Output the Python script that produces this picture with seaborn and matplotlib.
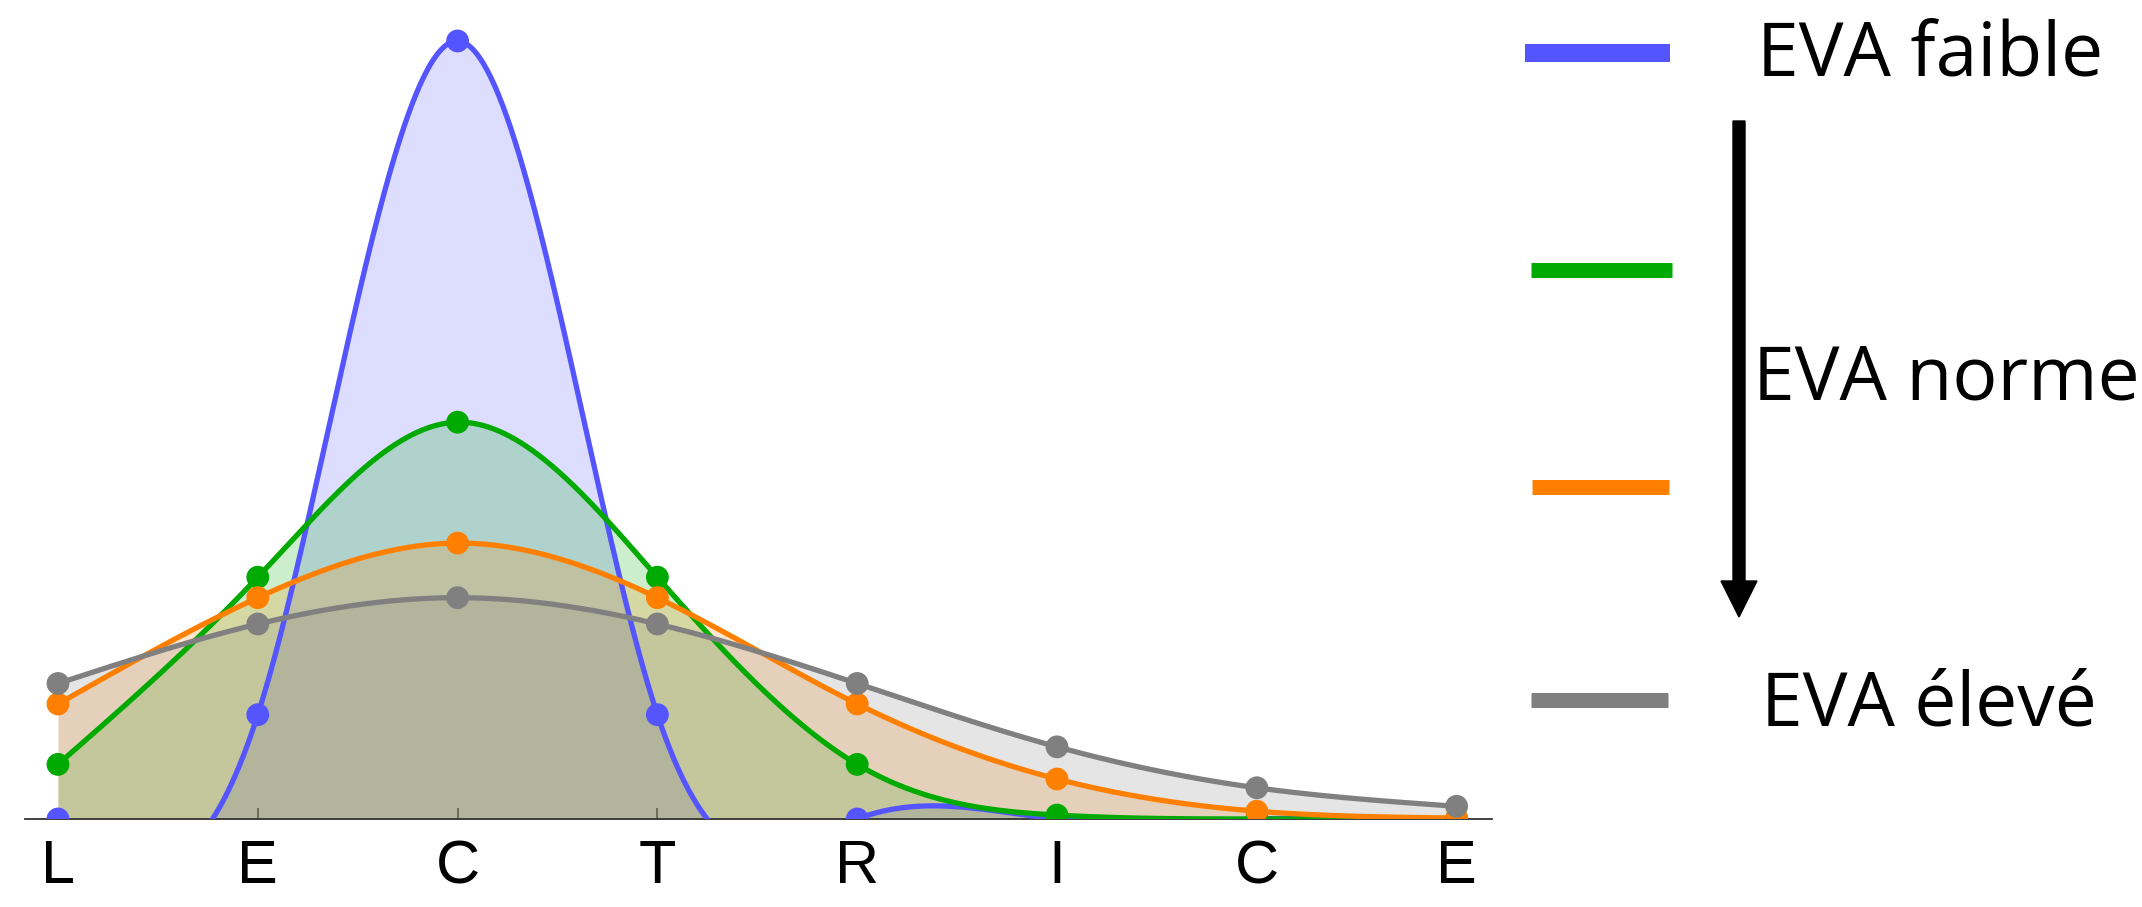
import numpy as np
import pandas as pd
import seaborn as sns
import matplotlib
matplotlib.use('Agg')
import matplotlib.pyplot as plt

# lettres de l'axe x et densites
lettres = ['L', 'E', 'C', 'T', 'R', 'I', 'C', 'E']
eva_faible = [0.0, 0.107, 0.798, 0.107, 0.0, 0.0, 0.0, 0.0]
eva_vert = [0.056, 0.248, 0.407, 0.248, 0.056, 0.004, 0.0, 0.0]
eva_orange = [0.118, 0.227, 0.283, 0.227, 0.118, 0.041, 0.008, 0.001]
eva_eleve = [0.139, 0.200, 0.227, 0.200, 0.139, 0.074, 0.032, 0.013]

series = ['EVA faible', 'EVA moyen faible', 'EVA moyen fort', 'EVA élevé']
valeurs = [eva_faible, eva_vert, eva_orange, eva_eleve]
couleurs = ['#5555ff', '#00aa00', '#ff8000', '#808080']
palette = dict(zip(series, couleurs))


def spline_naturelle(y, xs):
    # spline cubique naturelle sur x = 0..n-1
    y = np.asarray(y, dtype=float)
    n = len(y)
    A = np.zeros((n, n))
    r = np.zeros(n)
    A[0, 0] = A[-1, -1] = 1
    for i in range(1, n - 1):
        A[i, i - 1], A[i, i], A[i, i + 1] = 1, 4, 1
        r[i] = 6 * (y[i + 1] - 2 * y[i] + y[i - 1])
    M = np.linalg.solve(A, r)
    i = np.clip(np.floor(xs).astype(int), 0, n - 2)
    t = xs - i
    return (M[i] * (1 - t) ** 3 / 6 + M[i + 1] * t ** 3 / 6
            + (y[i] - M[i] / 6) * (1 - t) + (y[i + 1] - M[i + 1] / 6) * t)


xs = np.linspace(0, len(lettres) - 1, 1400)
courbes = pd.concat([pd.DataFrame({'x': xs, 'y': spline_naturelle(v, xs), 'serie': s})
                     for s, v in zip(series, valeurs)], ignore_index=True)
points = pd.concat([pd.DataFrame({'x': np.arange(len(lettres)), 'y': v, 'serie': s})
                    for s, v in zip(series, valeurs)], ignore_index=True)

sns.set_theme(style='white')
plt.rcParams['font.family'] = ['Liberation Sans', 'DejaVu Sans']

fig = plt.figure(figsize=(21.42, 9.07), dpi=100)
ax = fig.add_axes([25 / 2142, 88 / 907, 1467 / 2142, 799 / 907])

for s, c in zip(series, couleurs):
    d = courbes[courbes.serie == s]
    ax.fill_between(d.x, 0, d.y, color=c, alpha=0.2, linewidth=0, zorder=1)

sns.lineplot(data=courbes, x='x', y='y', hue='serie', palette=palette,
             legend=False, errorbar=None, ax=ax, zorder=3)
for ligne in ax.lines:
    ligne.set_linewidth(3.8)
    ligne.set_solid_capstyle('round')
sns.scatterplot(data=points, x='x', y='y', hue='serie', palette=palette, s=270,
                linewidth=0, legend=False, ax=ax, zorder=4)

ax.set_xlim(-0.165, 7.177)
ax.set_ylim(0, 0.8195)
ax.set_xticks(range(len(lettres)))
ax.set_xticklabels(lettres, fontsize=44, color='black')
ax.set_yticks([])
ax.set_xlabel('')
ax.set_ylabel('')
ax.tick_params(axis='x', bottom=True, direction='in', length=8, width=1.2,
               color='#333333', pad=14.5)
sns.despine(ax=ax, left=True)
ax.spines['bottom'].set_color('#333333')
ax.spines['bottom'].set_linewidth(1.3)

# legende dessinee a droite
leg = fig.add_axes([0, 0, 1, 1])
leg.set_xlim(0, 2142)
leg.set_ylim(907, 0)
leg.axis('off')
barres = [(1525, 1670, 53, 13), (1531, 1672, 270, 10.8),
          (1532, 1669, 487, 10.8), (1531, 1668, 700, 10.8)]
for (x0, x1, y, lw), c in zip(barres, couleurs):
    leg.plot([x0, x1], [y, y], color=c, linewidth=lw, solid_capstyle='butt')

leg.arrow(1739, 121, 0, 496, width=12, head_width=36, head_length=36,
          length_includes_head=True, color='black')

txt = dict(fontsize=54, family=['Open Sans', 'DejaVu Sans'], ha='left', va='baseline',
           color='black')
leg.text(1757, 75, 'EVA faible', **txt)
leg.text(1753, 400, 'EVA norme', **txt)
leg.text(1761, 725, 'EVA élevé', **txt)

fig.savefig('out.png', dpi=100)
